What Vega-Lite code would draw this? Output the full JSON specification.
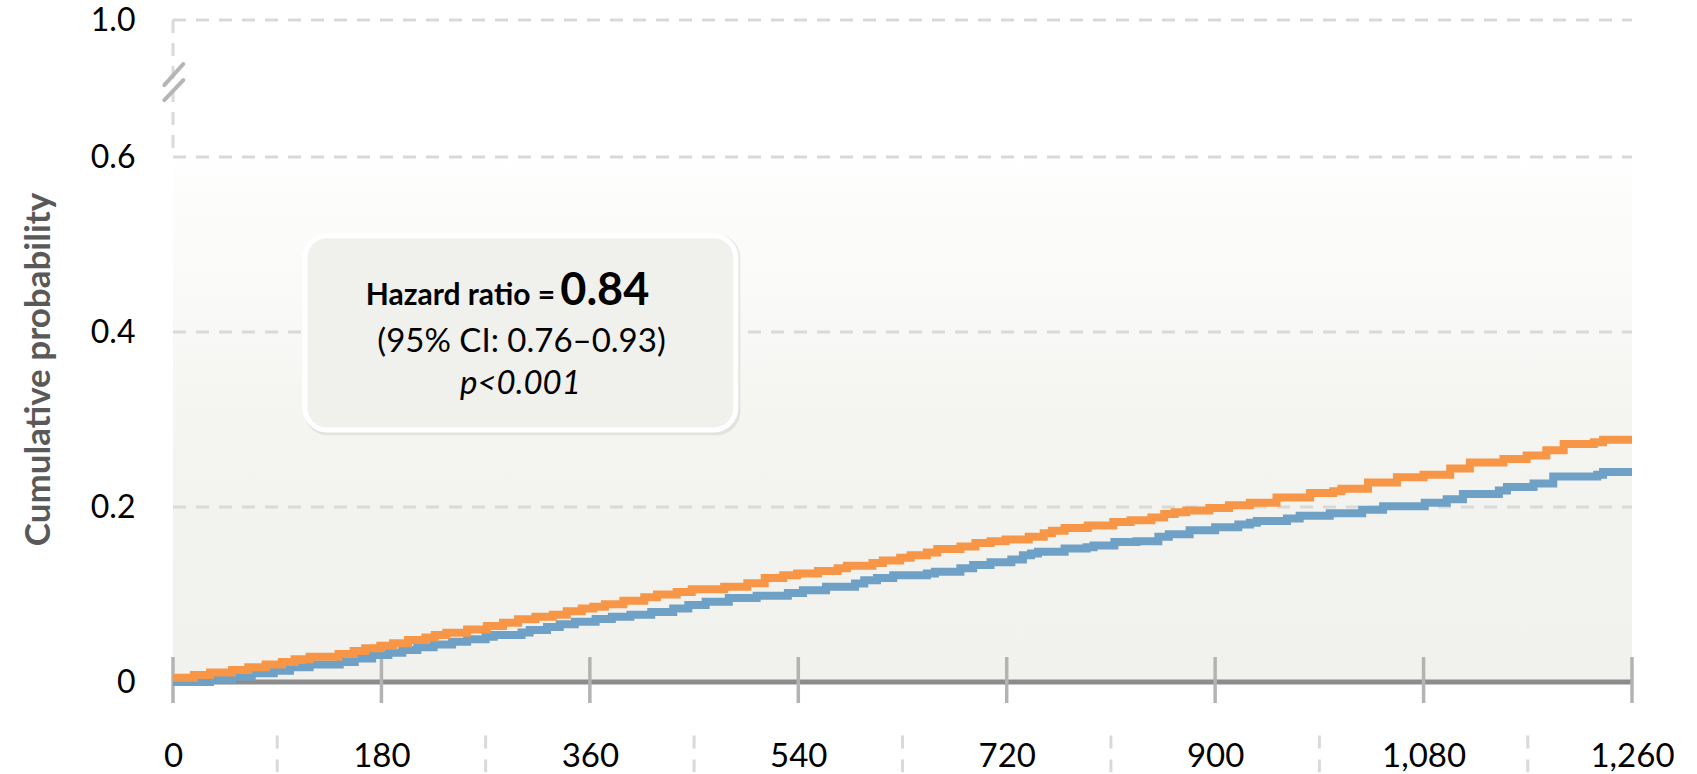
{
  "$schema": "https://vega.github.io/schema/vega-lite/v6.json",
  "width": 1459,
  "height": 662,
  "autosize": {"type": "none"},
  "padding": {"left": 173, "top": 20, "right": 65, "bottom": 92},
  "background": "white",
  "config": {"view": {"stroke": null}, "font": "Lato"},
  "datasets": {
    "control": [
      {"day": 0, "prob": 0.005}, {"day": 18, "prob": 0.008}, {"day": 32, "prob": 0.011}, {"day": 51, "prob": 0.0137},
      {"day": 65, "prob": 0.0168}, {"day": 80, "prob": 0.02}, {"day": 94, "prob": 0.023}, {"day": 105, "prob": 0.026},
      {"day": 118, "prob": 0.029}, {"day": 143, "prob": 0.032}, {"day": 156, "prob": 0.0354}, {"day": 166, "prob": 0.0385},
      {"day": 179, "prob": 0.0414}, {"day": 190, "prob": 0.0442}, {"day": 203, "prob": 0.048}, {"day": 218, "prob": 0.051},
      {"day": 226, "prob": 0.0537}, {"day": 236, "prob": 0.0563}, {"day": 254, "prob": 0.06}, {"day": 271, "prob": 0.064},
      {"day": 285, "prob": 0.0677}, {"day": 298, "prob": 0.0716}, {"day": 313, "prob": 0.0745}, {"day": 328, "prob": 0.077},
      {"day": 340, "prob": 0.081}, {"day": 353, "prob": 0.084}, {"day": 363, "prob": 0.086}, {"day": 373, "prob": 0.089},
      {"day": 389, "prob": 0.093}, {"day": 407, "prob": 0.097}, {"day": 418, "prob": 0.1}, {"day": 435, "prob": 0.103},
      {"day": 448, "prob": 0.106}, {"day": 476, "prob": 0.109}, {"day": 496, "prob": 0.113}, {"day": 511, "prob": 0.119},
      {"day": 527, "prob": 0.122}, {"day": 539, "prob": 0.124}, {"day": 557, "prob": 0.127}, {"day": 574, "prob": 0.13},
      {"day": 582, "prob": 0.133}, {"day": 604, "prob": 0.136}, {"day": 613, "prob": 0.139}, {"day": 628, "prob": 0.142},
      {"day": 637, "prob": 0.145}, {"day": 651, "prob": 0.148}, {"day": 660, "prob": 0.152}, {"day": 680, "prob": 0.155},
      {"day": 693, "prob": 0.159}, {"day": 706, "prob": 0.161}, {"day": 719, "prob": 0.163}, {"day": 739, "prob": 0.166},
      {"day": 752, "prob": 0.17}, {"day": 759, "prob": 0.173}, {"day": 770, "prob": 0.176}, {"day": 790, "prob": 0.179},
      {"day": 812, "prob": 0.183}, {"day": 827, "prob": 0.185}, {"day": 845, "prob": 0.188}, {"day": 856, "prob": 0.192},
      {"day": 865, "prob": 0.194}, {"day": 875, "prob": 0.196}, {"day": 895, "prob": 0.199}, {"day": 912, "prob": 0.202},
      {"day": 930, "prob": 0.205}, {"day": 953, "prob": 0.211}, {"day": 982, "prob": 0.216}, {"day": 1002, "prob": 0.218},
      {"day": 1009, "prob": 0.221}, {"day": 1032, "prob": 0.228}, {"day": 1057, "prob": 0.234}, {"day": 1080, "prob": 0.237},
      {"day": 1103, "prob": 0.244}, {"day": 1120, "prob": 0.251}, {"day": 1149, "prob": 0.255}, {"day": 1169, "prob": 0.259},
      {"day": 1186, "prob": 0.265}, {"day": 1201, "prob": 0.272}, {"day": 1227, "prob": 0.274}, {"day": 1235, "prob": 0.277},
      {"day": 1260, "prob": 0.277}
    ],
    "treatment": [
      {"day": 0, "prob": 0}, {"day": 32, "prob": 0.003}, {"day": 51, "prob": 0.006}, {"day": 68, "prob": 0.0099},
      {"day": 87, "prob": 0.013}, {"day": 101, "prob": 0.0168}, {"day": 118, "prob": 0.02}, {"day": 144, "prob": 0.023},
      {"day": 157, "prob": 0.027}, {"day": 172, "prob": 0.031}, {"day": 186, "prob": 0.0335}, {"day": 198, "prob": 0.0365},
      {"day": 211, "prob": 0.0396}, {"day": 225, "prob": 0.043}, {"day": 241, "prob": 0.046}, {"day": 254, "prob": 0.0488},
      {"day": 270, "prob": 0.0517}, {"day": 277, "prob": 0.0537}, {"day": 301, "prob": 0.0565}, {"day": 308, "prob": 0.0594},
      {"day": 323, "prob": 0.063}, {"day": 334, "prob": 0.0659}, {"day": 347, "prob": 0.069}, {"day": 365, "prob": 0.072},
      {"day": 379, "prob": 0.0745}, {"day": 395, "prob": 0.077}, {"day": 413, "prob": 0.08}, {"day": 432, "prob": 0.084},
      {"day": 445, "prob": 0.088}, {"day": 460, "prob": 0.0917}, {"day": 480, "prob": 0.096}, {"day": 504, "prob": 0.0985},
      {"day": 531, "prob": 0.1016}, {"day": 544, "prob": 0.105}, {"day": 564, "prob": 0.109}, {"day": 589, "prob": 0.1125},
      {"day": 597, "prob": 0.1164}, {"day": 608, "prob": 0.119}, {"day": 622, "prob": 0.122}, {"day": 651, "prob": 0.124},
      {"day": 658, "prob": 0.126}, {"day": 680, "prob": 0.13}, {"day": 691, "prob": 0.1336}, {"day": 706, "prob": 0.137},
      {"day": 724, "prob": 0.14}, {"day": 734, "prob": 0.145}, {"day": 741, "prob": 0.147}, {"day": 747, "prob": 0.149},
      {"day": 770, "prob": 0.1526}, {"day": 789, "prob": 0.154}, {"day": 795, "prob": 0.156}, {"day": 813, "prob": 0.16},
      {"day": 832, "prob": 0.161}, {"day": 851, "prob": 0.166}, {"day": 860, "prob": 0.169}, {"day": 878, "prob": 0.1735},
      {"day": 900, "prob": 0.177}, {"day": 920, "prob": 0.18}, {"day": 930, "prob": 0.182}, {"day": 936, "prob": 0.184},
      {"day": 962, "prob": 0.187}, {"day": 973, "prob": 0.19}, {"day": 999, "prob": 0.193}, {"day": 1027, "prob": 0.197},
      {"day": 1045, "prob": 0.201}, {"day": 1081, "prob": 0.205}, {"day": 1100, "prob": 0.209}, {"day": 1114, "prob": 0.215},
      {"day": 1145, "prob": 0.219}, {"day": 1152, "prob": 0.223}, {"day": 1175, "prob": 0.227}, {"day": 1192, "prob": 0.235},
      {"day": 1230, "prob": 0.237}, {"day": 1235, "prob": 0.24}, {"day": 1260, "prob": 0.24}
    ],
    "majorTicks": [
      {"day": 0}, {"day": 180}, {"day": 360}, {"day": 540}, {"day": 720}, {"day": 900}, {"day": 1080}, {"day": 1260}
    ],
    "minorTicks": [
      {"day": 90}, {"day": 270}, {"day": 450}, {"day": 630}, {"day": 810}, {"day": 990}, {"day": 1170}
    ],
    "gridLines": [
      {"prob": 0.2}, {"prob": 0.4}, {"prob": 0.6}, {"prob": 1.0}
    ]
  },
  "layer": [
    {
      "data": {"values": [{}]},
      "mark": {
        "type": "rect",
        "fill": {
          "gradient": "linear", "x1": 0, "y1": 0, "x2": 0, "y2": 1,
          "stops": [
            {"offset": 0, "color": "#ffffff"},
            {"offset": 0.05, "color": "#fdfdfc"},
            {"offset": 0.33, "color": "#f8f8f6"},
            {"offset": 0.46, "color": "#f5f5f2"},
            {"offset": 0.69, "color": "#f2f2ee"},
            {"offset": 1, "color": "#f1f1ed"}
          ]
        }
      },
      "encoding": {
        "x": {
          "datum": 0, "type": "quantitative",
          "scale": {"domain": [0, 1260], "nice": false, "zero": false},
          "axis": {
            "title": null, "values": [0, 180, 360, 540, 720, 900, 1080, 1260], "format": ",d",
            "domain": false, "ticks": false, "grid": false,
            "labelFont": "Lato", "labelFontSize": 33, "labelColor": "black",
            "labelBaseline": "alphabetic", "labelPadding": 84,
            "labelFlush": false, "labelOverlap": false, "labelBound": false
          }
        },
        "x2": {"datum": 1260},
        "y": {
          "datum": 0, "type": "quantitative",
          "scale": {"domain": [0, 0.6, 1], "range": [662, 137, 0], "nice": false, "zero": false},
          "axis": {
            "title": "Cumulative probability", "values": [0, 0.2, 0.4, 0.6, 1],
            "labelExpr": "datum.value == 0 ? '0' : format(datum.value, '.1f')",
            "domain": false, "ticks": false, "grid": false,
            "labelFont": "Lato", "labelFontSize": 32, "labelColor": "black",
            "labelPadding": 38, "labelBaseline": "middle", "labelOverlap": false, "labelBound": false,
            "titleFont": "Lato", "titleFontSize": 35, "titleFontWeight": "bold", "titleColor": "#595959",
            "titleAngle": -90, "titleX": -135, "titleY": 349, "titleAlign": "center", "titleBaseline": "middle"
          }
        },
        "y2": {"datum": 0.6}
      }
    },
    {
      "data": {"name": "gridLines"},
      "mark": {"type": "rule", "stroke": "#d9d9d9", "strokeWidth": 3, "strokeDash": [13, 10]},
      "encoding": {
        "x": {"datum": 0, "type": "quantitative"},
        "x2": {"datum": 1260},
        "y": {"field": "prob", "type": "quantitative"}
      }
    },
    {
      "data": {"values": [{}]},
      "mark": {"type": "rule", "stroke": "#d9d9d9", "strokeWidth": 3, "strokeDash": [13, 10]},
      "encoding": {
        "x": {"datum": 0, "type": "quantitative"},
        "y": {"datum": 1.0, "type": "quantitative"},
        "y2": {"datum": 0.6}
      }
    },
    {
      "data": {"values": [{}]},
      "mark": {"type": "rule", "stroke": "#b5b5b5", "strokeWidth": 4, "strokeCap": "round"},
      "encoding": {
        "x": {"datum": -7.5, "type": "quantitative"},
        "x2": {"datum": 8.9},
        "y": {"datum": 0.81, "type": "quantitative"},
        "y2": {"datum": 0.8715}
      }
    },
    {
      "data": {"values": [{}]},
      "mark": {"type": "rule", "stroke": "#b5b5b5", "strokeWidth": 4, "strokeCap": "round"},
      "encoding": {
        "x": {"datum": -7.5, "type": "quantitative"},
        "x2": {"datum": 8.9},
        "y": {"datum": 0.7664, "type": "quantitative"},
        "y2": {"datum": 0.8248}
      }
    },
    {
      "data": {"values": [{}]},
      "mark": {"type": "rule", "stroke": "#8c8c8c", "strokeWidth": 5},
      "encoding": {
        "x": {"datum": 0, "type": "quantitative"},
        "x2": {"datum": 1260},
        "y": {"datum": 0, "type": "quantitative"}
      }
    },
    {
      "data": {"name": "majorTicks"},
      "mark": {"type": "rule", "stroke": "#b3b3b3", "strokeWidth": 3.5},
      "encoding": {
        "x": {"field": "day", "type": "quantitative"},
        "y": {"datum": -0.024, "type": "quantitative"},
        "y2": {"datum": 0.0286}
      }
    },
    {
      "data": {"name": "minorTicks"},
      "mark": {"type": "rule", "stroke": "#d9d9d9", "strokeWidth": 3, "strokeDash": [13, 11]},
      "encoding": {
        "x": {"field": "day", "type": "quantitative"},
        "y": {"datum": -0.061, "type": "quantitative"},
        "y2": {"datum": -0.103}
      }
    },
    {
      "data": {"values": [{}]},
      "mark": {"type": "rect", "fill": "#000000", "opacity": 0.07, "cornerRadius": 24},
      "encoding": {
        "x": {"datum": 113, "type": "quantitative"},
        "x2": {"datum": 490},
        "y": {"datum": 0.282, "type": "quantitative"},
        "y2": {"datum": 0.512}
      }
    },
    {
      "data": {"values": [{}]},
      "mark": {"type": "rect", "fill": "#f0f0ec", "stroke": "white", "strokeWidth": 5, "cornerRadius": 22},
      "encoding": {
        "x": {"datum": 114, "type": "quantitative"},
        "x2": {"datum": 486},
        "y": {"datum": 0.288, "type": "quantitative"},
        "y2": {"datum": 0.51}
      }
    },
    {
      "data": {"values": [{}]},
      "mark": {"type": "text", "text": "Hazard ratio =", "align": "right", "baseline": "alphabetic", "font": "Lato", "fontWeight": "bold", "fontSize": 30, "color": "black"},
      "encoding": {
        "x": {"datum": 330, "type": "quantitative"},
        "y": {"datum": 0.4304, "type": "quantitative"}
      }
    },
    {
      "data": {"values": [{}]},
      "mark": {"type": "text", "text": "0.84", "align": "left", "baseline": "alphabetic", "font": "Lato", "fontWeight": "bold", "fontSize": 45, "color": "black"},
      "encoding": {
        "x": {"datum": 334.5, "type": "quantitative"},
        "y": {"datum": 0.4304, "type": "quantitative"}
      }
    },
    {
      "data": {"values": [{}]},
      "mark": {"type": "text", "text": "(95% CI: 0.76–0.93)", "align": "center", "baseline": "alphabetic", "font": "Lato", "fontSize": 33, "color": "black"},
      "encoding": {
        "x": {"datum": 301, "type": "quantitative"},
        "y": {"datum": 0.377, "type": "quantitative"}
      }
    },
    {
      "data": {"values": [{}]},
      "mark": {"type": "text", "text": "p<0.001", "align": "center", "baseline": "alphabetic", "font": "Lato", "fontStyle": "italic", "fontSize": 33, "color": "black"},
      "encoding": {
        "x": {"datum": 300, "type": "quantitative"},
        "y": {"datum": 0.329, "type": "quantitative"}
      }
    },
    {
      "data": {"name": "treatment"},
      "mark": {"type": "line", "interpolate": "step-after", "stroke": "#6fa0c5", "strokeWidth": 8},
      "encoding": {
        "x": {"field": "day", "type": "quantitative"},
        "y": {"field": "prob", "type": "quantitative"}
      }
    },
    {
      "data": {"name": "control"},
      "mark": {"type": "line", "interpolate": "step-after", "stroke": "#f79646", "strokeWidth": 8},
      "encoding": {
        "x": {"field": "day", "type": "quantitative"},
        "y": {"field": "prob", "type": "quantitative"}
      }
    }
  ]
}
